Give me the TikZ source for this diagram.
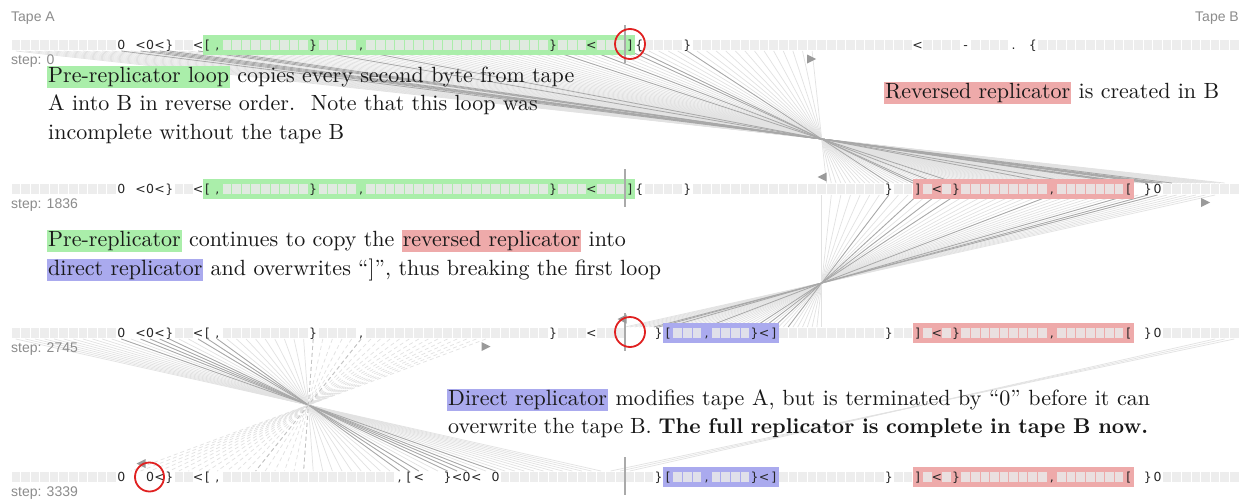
\documentclass[tikz,border=0pt]{standalone}
\usepackage{fontspec}
\setmainfont{lmroman10-regular.otf}[BoldFont=lmroman10-bold.otf]
\newfontfamily\tapefont{DejaVu Sans}
\newfontfamily\labelfont{Liberation Sans}
\definecolor{cellgray}{HTML}{EAEAEA}
\definecolor{hlgreen}{HTML}{AAEEAA}
\definecolor{hlred}{HTML}{EEAAAA}
\definecolor{hlblue}{HTML}{AAAAEE}
\definecolor{labelgray}{HTML}{8C8C8C}
\definecolor{linelight}{HTML}{E2E2E2}
\definecolor{linedark}{HTML}{A8A8A8}
\definecolor{circred}{HTML}{E02020}
\definecolor{markgray}{HTML}{9A9A9A}
\definecolor{headline}{HTML}{AAAAAA}
\newcommand\bodysize{\fontsize{22}{28.5}\selectfont}
\newcommand\hlbox[2]{{\setlength\fboxsep{1pt}\colorbox{#1}{\rule[-0.17em]{0pt}{0.8em}#2}}}
\tikzset{
  cellbox/.style={fill=cellgray, fill opacity=0.85},
  tapechar/.style={anchor=base, inner sep=0pt, font=\tapefont\fontsize{12.5}{12.5}\selectfont, text=black!85},
  steplabel/.style={anchor=base west, inner sep=0pt, font=\labelfont\fontsize{14}{14}\selectfont, text=labelgray},
  bodytext/.style={anchor=base west, inner sep=0pt, font=\bodysize, text=black!90},
  fanlight/.style={draw=linelight, line width=0.7pt},
  fandark/.style={draw=linedark, line width=0.8pt},
  headmark/.style={fill=markgray},
  headrule/.style={draw=headline, line width=1.5pt},
  redring/.style={draw=circred, line width=1.8pt},
}
\newcommand\tapegray[2]{%
  \foreach \a/\b in {#2}{\foreach \i in {\a,...,\b}{%
    \fill[cellbox] ({11+9.594*\i+0.5},{#1-5}) rectangle ({11+9.594*(\i+1)-0.5},{#1+5});}}}
\newcommand\tapechars[3]{%
  \foreach \i/\c in {#3}{\node[tapechar] (ch#1-\i) at ({11+9.594*(\i+0.5)},{#2+4.5}) {\c};}}
\newcommand\band[4]{\fill[#1] ({11+9.594*#2},{#4-10}) rectangle ({11+9.594*(#3+1)},{#4+10});}
\newcommand\rmark[2]{\fill[headmark] (#1-4.5,#2-4.5) -- (#1+4.5,#2) -- (#1-4.5,#2+4.5) -- cycle;}
\newcommand\lmark[2]{\fill[headmark] (#1+4.5,#2-4.5) -- (#1-4.5,#2) -- (#1+4.5,#2+4.5) -- cycle;}
\begin{document}
\begin{tikzpicture}[x=1pt,y=-1pt]
\useasboundingbox (0,0) rectangle (1242,498);
\fill[white] (0,0) rectangle (1242,498);

% ---------- fan 1: row 1 -> row 2 (every second byte, reversed)
\foreach \i in {0,...,83}{\draw[fanlight] ({11+9.594*(\i+0.5)},51) -- ({11+9.594*(94+(64-\i)/2+0.5)},183);}
\foreach \i in {11,13,14,15,16,19,20,21,31,36,56,60,64,65,70}{\draw[fandark] ({11+9.594*(\i+0.5)},51) -- ({11+9.594*(94+(64-\i)/2+0.5)},183);}
% ---------- fan 2: row 2 -> row 3
\foreach \i in {84,...,125}{\draw[fanlight] ({11+9.594*(\i+0.5)},195) -- ({11+9.594*(79-(\i-94)/2+0.5)},327);}
\foreach \i in {91,94,96,98,108,116,118,119}{\draw[fandark] ({11+9.594*(\i+0.5)},195) -- ({11+9.594*(79-(\i-94)/2+0.5)},327);}
% ---------- fan 3: row 3 -> row 4 (mirror)
\foreach \i in {0,...,30}{\draw[fanlight] ({11+9.594*(\i+0.5)},339) -- ({11+9.594*(61-\i+0.5)},471);}
\foreach \i in {11,13,14,15,16,19,20,21}{\draw[fandark] ({11+9.594*(\i+0.5)},339) -- ({11+9.594*(61-\i+0.5)},471);}
\foreach \i in {31,...,49}{\draw[fanlight,dash pattern=on 4pt off 3pt] ({11+9.594*(\i+0.5)},339) -- ({11+9.594*(61-\i+0.5)},471);}
\foreach \i in {31,36}{\draw[fandark,draw=linedark!70,dash pattern=on 4pt off 3pt] ({11+9.594*(\i+0.5)},339) -- ({11+9.594*(61-\i+0.5)},471);}
\foreach \i/\j in {125/64,126/63,127/62}{\draw[fanlight] ({11+9.594*(\i+0.5)},339) -- ({11+9.594*(\j+0.5)},471);}

% ---------- highlight bands
\band{hlgreen}{20}{64}{45}
\band{hlgreen}{20}{64}{189}
\band{hlred}{94}{116}{189}
\band{hlblue}{68}{79}{333}
\band{hlred}{94}{116}{333}
\band{hlblue}{68}{79}{477}
\band{hlred}{94}{116}{477}

% ---------- row 1 (step 0)
\tapegray{45}{0/10,17/18,22/30,32/35,37/55,57/59,61/63,66/69,71/93,95/98,100/103,107/127}
\tapechars{r1}{45}{11/0,13/<,14/0,15/<,16/\},19/<,20/[,21/{,},31/\},36/{,},56/\},60/<,64/],65/\{,70/\},94/<,99/-,104/.,106/\{}
% ---------- row 2 (step 1836)
\tapegray{189}{0/10,17/18,22/30,32/35,37/55,57/59,61/63,66/69,71/90,92/93,95/95,97/97,99/107,109/115,120/127}
\tapechars{r2}{189}{11/0,13/<,14/0,15/<,16/\},19/<,20/[,21/{,},31/\},36/{,},56/\},60/<,64/],65/\{,70/\},91/\},94/],96/<,98/\},108/{,},116/[,118/\},119/0}
% ---------- row 3 (step 2745)
\tapegray{333}{0/10,17/18,22/30,32/35,37/55,57/59,61/63,69/71,73/76,80/90,92/93,95/95,97/97,99/107,109/115,120/127}
\tapechars{r3}{333}{11/0,13/<,14/0,15/<,16/\},19/<,20/[,21/{,},31/\},36/{,},56/\},60/<,67/\},68/[,72/{,},77/\},78/<,79/],91/\},94/],96/<,98/\},108/{,},116/[,118/\},119/0}
% ---------- row 4 (step 3339)
\tapegray{477}{0/10,17/18,22/39,51/66,69/71,73/76,80/90,92/93,95/95,97/97,99/107,109/115,120/127}
\tapechars{r4}{477}{11/0,14/0,15/<,16/\},19/<,20/[,21/{,},40/{,},41/[,42/<,45/\},46/<,47/0,48/<,50/0,67/\},68/[,72/{,},77/\},78/<,79/],91/\},94/],96/<,98/\},108/{,},116/[,118/\},119/0}

% ---------- tape boundary rules
\foreach \y in {45,189,333,477}{\draw[headrule] (625,\y-20) -- (625,\y+18);}

% ---------- head markers
\rmark{811.5}{59}
\lmark{822}{177}
\rmark{1205.5}{202.5}
\rmark{486}{346.5}
\lmark{622}{319}
\lmark{141}{463.5}

% ---------- red rings
\draw[redring] (630,44) circle (15);
\draw[redring] (630,332) circle (15);
\draw[redring] (149.5,477) circle (14.5);

% ---------- labels
\node[steplabel] (tapeA) at (11,21) {Tape A};
\node[steplabel, anchor=base east] (tapeB) at (1239,21) {Tape B};
\node[steplabel] (s0) at (11,64) {step: 0};
\node[steplabel] (s1) at (11,208) {step: 1836};
\node[steplabel] (s2) at (11,352) {step: 2745};
\node[steplabel] (s3) at (11,496) {step: 3339};

% ---------- explanations
\node[bodytext] (p1a) at (47,82.3) {\hlbox{hlgreen}{Pre-replicator loop} copies every second byte from tape};
\node[bodytext] (p1b) at (48,110.8) {A into B in reverse order.\hspace{6pt} Note that this loop was};
\node[bodytext] (p1c) at (48,139.3) {incomplete without the tape B};
\node[bodytext] (p1d) at (884,98.3) {\hlbox{hlred}{Reversed replicator} is created in B};
\node[bodytext] (p2a) at (47,246.3) {\hlbox{hlgreen}{Pre-replicator} continues to copy the \hlbox{hlred}{reversed replicator} into};
\node[bodytext] (p2b) at (47,275.3) {\hlbox{hlblue}{direct replicator} and overwrites “]”, thus breaking the first loop};
\node[bodytext] (p3a) at (447,405.3) {\makebox[703pt][s]{\hlbox{hlblue}{Direct replicator} modifies tape A, but is terminated by “0” before it can}};
\node[bodytext] (p3b) at (448,433.8) {\makebox[700pt][s]{overwrite the tape B. {\bfseries\fontsize{21.4}{28.5}\selectfont The full replicator is complete in tape B now.}}};
\end{tikzpicture}
\end{document}
